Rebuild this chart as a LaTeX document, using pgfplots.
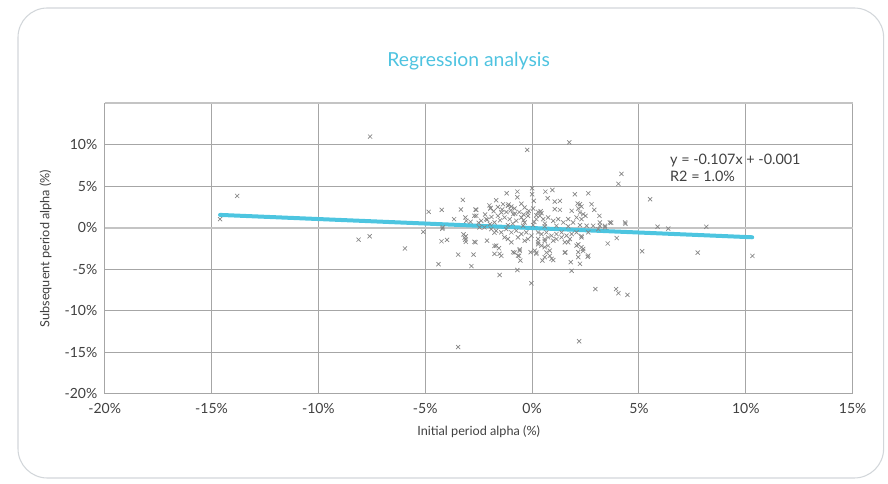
\documentclass[border=0pt]{standalone}
\usepackage{fontspec}
\setmainfont{Lato}
\usepackage{pgfplots}
\pgfplotsset{compat=1.18}

\definecolor{titlecyan}{HTML}{4EC3E0}
\definecolor{fitcyan}{HTML}{4DC5E0}
\definecolor{txt}{HTML}{404040}
\definecolor{gridgray}{HTML}{A6A6A6}
\definecolor{zerogray}{HTML}{C4C4C4}
\definecolor{markgray}{HTML}{858585}
\definecolor{framegray}{HTML}{D2D6DA}

% alpha values in percent
\pgfplotstableread{
x y
-14.6 1.04
-13.8 3.84
-7.58 11.0
-8.12 -1.44
-7.6 -1.03
-5.95 -2.5
-5.09 -0.5
-4.84 1.92
-4.23 2.16
-3.24 3.36
-3.33 2.2
-2.65 2.2
-3.65 1.04
-3.12 1.24
-2.7 1.44
-2.88 0.72
-4.2 -0.12
-4.24 -1.63
-3.98 -1.47
-3.21 -0.8
-3.1 -1.03
-3.1 -1.7
-2.7 -1.7
-2.65 -1.75
-3.46 -3.24
-2.74 -3.24
-4.38 -4.4
-2.84 -4.63
-3.46 -14.4
2.2 -13.7
-0.23 9.4
1.74 10.3
4.18 6.5
4.04 5.3
5.52 3.44
5.87 0.12
6.37 -0.1
5.15 -2.83
7.75 -3.0
8.15 0.12
10.31 -3.4
3.54 -1.9
3.96 -1.24
4.37 0.48
3.7 0.6
2.96 -7.4
3.93 -7.4
4.04 -7.9
4.46 -8.1
-0.03 -6.7
-1.52 -5.7
-0.69 -5.1
1.85 -5.2
-1.19 4.16
-0.69 4.36
-0.69 3.68
0 4.76
0 4.04
0.62 4.36
0.95 4.56
0.73 3.56
2.0 4.04
2.63 4.16
-1.68 3.32
0.08 3.24
1.06 3.16
1.3 3.24
2.78 2.84
2.13 2.92
2.24 2.84
-1.94 2.4
-1.36 2.84
-1.13 2.64
-0.97 2.56
-0.82 2.32
-0.35 2.44
-0.16 2.04
0.05 2.32
0.28 1.92
0.44 1.76
1.06 2.24
1.3 2.16
1.85 2.04
2.16 2.32
2.31 2.56
2.91 2.16
3.15 1.44
2.5 1.44
-2.61 2.16
-1.95 2.32
-2.61 1.44
-2.38 0.84
-2.15 1.04
-1.76 0.64
-1.6 1.44
-1.44 1.84
-1.29 1.24
-1.05 1.04
-0.89 1.64
-0.74 0.84
-0.5 1.24
-0.35 0.64
-0.19 1.44
0.2 1.04
0.36 1.44
0.52 1.04
0.75 1.24
0.99 0.84
1.22 1.04
1.46 0.64
1.69 1.04
1.92 0.64
2.08 1.24
2.31 1.04
2.55 0.24
2.86 0.24
3.17 0.24
3.41 0.24
2.24 1.84
2.39 1.64
3.17 0.64
3.64 0.64
4.35 0.64
-3.08 0.84
-2.1 0.96
-2.0 2.7
-1.8 2.0
-1.6 2.5
-1.4 2.2
-1.2 1.9
-1.0 2.1
-0.8 1.7
-0.6 1.9
-0.4 1.6
-0.2 1.8
0.2 1.5
0.4 2.0
-2.2 1.6
-1.9 1.3
-1.5 0.9
-0.9 0.5
-0.4 0.9
0.1 0.7
0.6 0.5
-2.5 0.6
-1.1 2.8
-0.5 2.9
-4.18 0.04
-3.13 -1.44
-2.11 -1.56
-2.46 0.04
-2.23 0.04
-1.91 -0.16
-1.68 -0.36
-1.44 -0.56
-1.21 -0.16
-0.97 -0.56
-0.74 -0.36
-0.5 -0.76
-0.27 -0.56
-0.03 -0.96
0.28 -0.56
0.44 -0.76
0.67 -0.56
0.91 -0.96
1.14 -0.76
1.38 -0.56
1.61 -0.96
1.85 -0.76
2.08 -0.56
2.31 -1.16
2.63 -0.56
3.1 -0.16
3.41 0.04
-1.97 0.44
-1.13 0.32
-0.42 0.24
0.05 0.32
0.59 0.16
1.14 0.24
1.69 0.16
2.24 0.32
-1.68 -2.16
-1.52 -3.15
-1.76 -3.15
-0.89 -2.95
-0.66 -3.36
-0.55 -3.96
-0.58 -2.76
-0.07 -2.95
0.2 -3.15
0.12 -2.76
0.44 -2.16
0.59 -2.35
0.75 -2.16
0.83 -2.76
0.59 -3.55
0.48 -3.96
0.91 -3.75
1.53 -1.75
1.69 -1.75
1.56 -2.95
2.08 -2.16
2.16 -2.95
2.16 -3.55
2.31 -2.35
2.39 -2.55
2.63 -3.36
1.81 -4.15
2.24 -4.35
0.28 -1.75
-0.35 -1.56
-0.97 -1.75
1.14 -1.36
-1.29 -1.16
-1.13 -1.36
-0.66 -1.16
-0.19 -1.36
0.59 -1.36
0.99 -1.56
1.38 -1.16
1.77 -1.36
0.75 -1.16
0.28 -1.36
-3.16 -1.2
-1.76 -0.6
-1.76 -2.2
-1.55 -2.47
-1.44 -3.39
-0.82 -3.0
-0.58 -2.6
-0.61 -3.39
0.2 -3.0
0.28 -2.0
0.59 -1.6
0.67 -3.0
0.99 -3.9
0.83 -3.39
1.53 -3.0
2.31 -1.0
2.16 -2.0
2.39 -2.8
2.6 -3.5
}\alphadata

\begin{document}
\begin{tikzpicture}
% page size and rounded card
\path[use as bounding box] (-78.5pt,-67.9pt) rectangle (587.5pt,295.1pt);
\draw[framegray, line width=0.8pt, rounded corners=22pt] (-65pt,-63.4pt) rectangle (584.2pt,289.1pt);
\node[titlecyan, font=\fontsize{14.5}{16}\selectfont] at (273pt,249pt) {Regression analysis};

\begin{axis}[
    scale only axis,
    width=561pt, height=217.5pt,
    xmin=-20, xmax=15, ymin=-20, ymax=15,
    xtick={-20,-15,...,15},
    ytick={-20,-15,...,10},
    /pgf/number format/assume math mode=true,
    xticklabel={\pgfmathprintnumber{\tick}\%},
    yticklabel={\pgfmathprintnumber{\tick}\%},
    tick label style={font=\fontsize{10.5}{12}\selectfont, text=txt},
    xticklabel style={yshift=-4pt},
    yticklabel style={xshift=-2pt},
    major tick length=0pt,
    grid=major,
    grid style={gridgray, line width=0.7pt},
    axis line style={gridgray, line width=0.7pt},
    xlabel={Initial period alpha (\%)},
    ylabel={Subsequent period alpha (\%)},
    label style={font=\fontsize{9.5}{11}\selectfont, text=txt},
    xlabel style={yshift=-2pt},
    ylabel style={yshift=3pt},
    clip=false,
]
% zero line, lighter and heavier than the grid
\draw[zerogray, line width=1.5pt] (axis cs:-20,0) -- (axis cs:15,0);
\draw[zerogray, line width=1.5pt] (axis cs:-20,15) -- (axis cs:15,15);

\addplot[only marks, mark=x, mark size=2.2pt, markgray, mark options={line width=0.5pt}]
    table[x=x, y=y] {\alphadata};

\addplot[fitcyan, line width=3pt, line cap=round] coordinates {(-14.6,1.55) (10.3,-1.15)};

\node[anchor=south west, align=left, text=txt, font=\fontsize{10.8}{13}\selectfont,
      inner sep=0pt] at (axis cs:6.45,5.5) {y = -0.107x + -0.001\\R2 = 1.0\%};
\end{axis}
\end{tikzpicture}
\end{document}
